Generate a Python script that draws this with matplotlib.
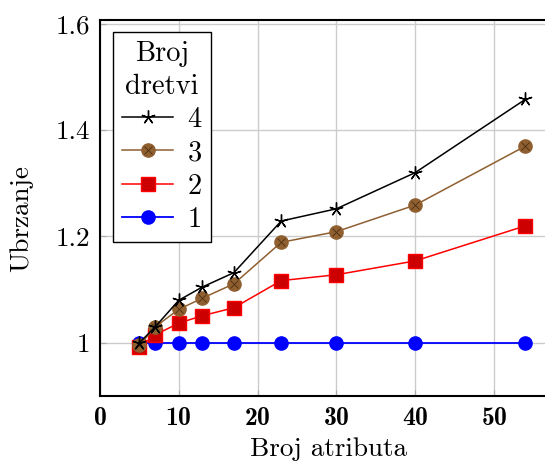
import matplotlib
matplotlib.use("Agg")
import matplotlib.pyplot as plt
from matplotlib.lines import Line2D

plt.rcParams['font.family'] = ['cmr10', 'DejaVu Serif']
plt.rcParams['mathtext.fontset'] = 'cm'
plt.rcParams['axes.formatter.use_mathtext'] = True

# broj atributa
atributi = [5, 7, 10, 13, 17, 23, 30, 40, 54]
# ubrzanje po broju dretvi
ubrzanje_1 = [1.0, 1.0, 1.0, 1.0, 1.0, 1.0, 1.0, 1.0, 1.0]
ubrzanje_2 = [0.992, 1.015, 1.037, 1.051, 1.066, 1.117, 1.128, 1.154, 1.22]
ubrzanje_3 = [0.995, 1.03, 1.063, 1.084, 1.111, 1.189, 1.209, 1.259, 1.37]
ubrzanje_4 = [1.0, 1.03, 1.08, 1.105, 1.132, 1.229, 1.252, 1.32, 1.458]

x_ticks = [0, 10, 20, 30, 40, 50]
y_ticks = [1.0, 1.2, 1.4, 1.6]
y_tick_labels = ['1', '1.2', '1.4', '1.6']

brown = '#8f5f30'
ms = 9.5

fig = plt.figure(figsize=(5.45, 4.63), dpi=100)
# desni rub osi je izvan slike (kao u originalu)
ax = fig.add_axes([100 / 545, 67 / 463, 457 / 545, 376 / 463])

ax.plot(atributi, ubrzanje_1, color='blue', lw=1.3, marker='o', ms=ms,
        mfc='blue', mec='blue', zorder=3)
ax.plot(atributi, ubrzanje_2, color='red', lw=1.1, marker='s', ms=ms,
        mfc='#cc0000', mec='red', zorder=4)
ax.plot(atributi, ubrzanje_3, color=brown, lw=1.1, marker='o', ms=ms,
        mfc=brown, mec=brown, zorder=5)
ax.plot(atributi, ubrzanje_3, ls='none', marker='x', ms=5.5, mec='#4a2e12',
        mew=0.6, zorder=6)
ax.plot(atributi, ubrzanje_4, color='black', lw=1.1, marker=(5, 2, 0), ms=10,
        mec='black', mew=1.0, zorder=7)

ax.set_xlim(0, 58)
ax.set_ylim(0.9, 1.607)
ax.set_xticks(x_ticks)
ax.set_yticks(y_ticks)
ax.set_yticklabels(y_tick_labels)
ax.grid(True, color='#cccccc', lw=1.0)
ax.set_axisbelow(True)
ax.tick_params(direction='in', length=4, color='#aaaaaa', labelsize=19.5)
ax.tick_params(axis='y', pad=7)
ax.tick_params(axis='x', pad=8, labelsize=18.5)
for lbl in ax.get_xticklabels():
    lbl.set_fontfamily('cmb10')

for s in ['left', 'bottom', 'top']:
    ax.spines[s].set_linewidth(1.5)
ax.spines['right'].set_visible(False)

ax.set_xlabel('Broj atributa', fontsize=19.5, labelpad=5)
ax.set_ylabel('Ubrzanje', fontsize=19.5)
ax.yaxis.set_label_coords(-0.146, 0.473)

handles = [
    Line2D([], [], color='black', lw=1.1, marker=(5, 2, 0), ms=10, mec='black'),
    (Line2D([], [], color=brown, lw=1.1, marker='o', ms=ms, mfc=brown, mec=brown),
     Line2D([], [], ls='none', marker='x', ms=5.5, mec='#4a2e12', mew=0.6)),
    Line2D([], [], color='red', lw=1.1, marker='s', ms=ms, mfc='#cc0000', mec='red'),
    Line2D([], [], color='blue', lw=1.3, marker='o', ms=ms, mfc='blue', mec='blue'),
]
leg = ax.legend(handles, ['4', '3', '2', '1'], title='Broj\ndretvi',
                loc='upper left', bbox_to_anchor=(0.0284, 0.969),
                fontsize=20.5, title_fontsize=20.5, fancybox=False,
                edgecolor='black', framealpha=1, borderaxespad=0,
                handlelength=1.8, labelspacing=0.25, borderpad=0.32,
                handletextpad=0.5)
leg.get_frame().set_linewidth(1.0)
leg.get_title().set_multialignment('center')
leg.get_title().set_linespacing(1.3)

fig.savefig('out.png', dpi=100)
